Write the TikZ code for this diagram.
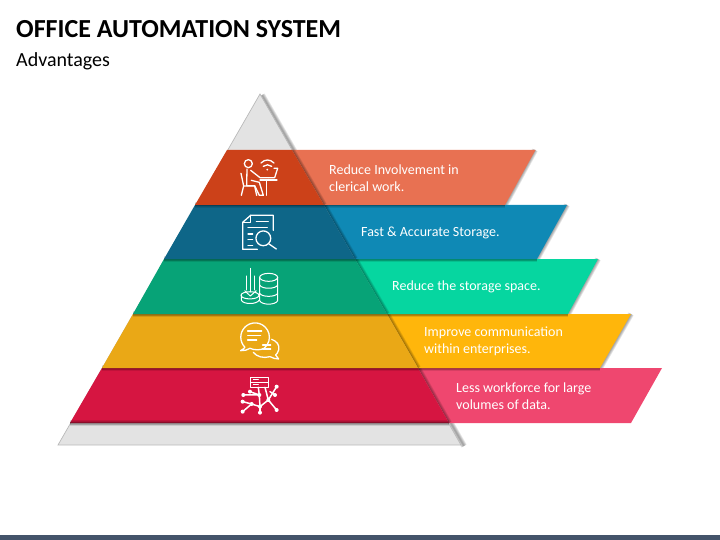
\documentclass[tikz,border=0pt]{standalone}
\usepackage{fontspec}
\setmainfont{Carlito}
\definecolor{cgrey}{RGB}{227,227,227}
\definecolor{cbar}{RGB}{68,84,106}
\definecolor{bandA}{RGB}{204,65,25}
\definecolor{ribbonA}{RGB}{232,113,82}
\definecolor{bandB}{RGB}{14,102,136}
\definecolor{ribbonB}{RGB}{15,137,181}
\definecolor{bandC}{RGB}{7,163,119}
\definecolor{ribbonC}{RGB}{6,214,160}
\definecolor{bandD}{RGB}{234,168,22}
\definecolor{ribbonD}{RGB}{255,182,11}
\definecolor{bandE}{RGB}{214,21,65}
\definecolor{ribbonE}{RGB}{239,71,111}
\tikzset{
  softedge/.style={draw=black, opacity=0.10},
  ribbontext/.style={   % white text on a ribbon
    anchor=west, align=left, inner sep=0pt, text=white,
    font=\fontsize{14}{16.8}\selectfont
  },
  iconline/.style={     % white outline icon, drawn in zoomed pixels
    draw=white, line width=1.3pt, line cap=round, line join=round,
    x=0.3333pt, y=-0.3333pt
  },
}
% soft shadow along a line: colour, from, to
\newcommand{\softline}[3]{%
  \draw[softedge, draw=#1, line width=1.5pt] #2 -- #3;
  \draw[softedge, draw=#1, line width=3pt] #2 -- #3;
  \draw[softedge, draw=#1, line width=4.5pt] #2 -- #3;
  \draw[softedge, draw=#1, line width=6pt] #2 -- #3;
}
% one level: ytop, ybottom, xleft top, xleft bottom, xedge top, xedge bottom, xribbon top, xribbon bottom, letter
\newcommand{\pyrlevel}[9]{%
  \fill[ribbon#9] (#5,#1) -- (#7,#1) -- (#8,#2) -- (#6,#2) -- cycle;
  \begin{scope}
    \clip (#5,#1) -- (#7,#1) -- (#8,#2) -- (#6,#2) -- cycle;
    \softline{black}{(#5,#1)}{(#6,#2)}
  \end{scope}
  \fill[band#9] (#3,#1) -- (#5,#1) -- (#6,#2) -- (#4,#2) -- cycle;
}

\begin{document}
\begin{tikzpicture}[x=1pt, y=-1pt]
\useasboundingbox (0,0) rectangle (720,540);

%% ─── TITLE ───────────────────────────────────────────────────────────────────
\node[anchor=west, inner sep=0pt, font=\fontsize{26}{30}\selectfont\bfseries]
  (title) at (16,29) {OFFICE AUTOMATION SYSTEM};
\node[anchor=west, inner sep=0pt, font=\fontsize{20}{24}\selectfont]
  (subtitle) at (16,61) {Advantages};

%% ─── GREY PYRAMID ────────────────────────────────────────────────────────────
\softline{black}{(262,95)}{(464,446)}
\softline{black}{(535,150)}{(505,205)}
\softline{black}{(567,205)}{(537,259)}
\softline{black}{(598,259)}{(568,314)}
\softline{black}{(631,314)}{(600,368)}
\draw[fill=cgrey, draw=gray!55, line width=0.7pt]
  (260,94) -- (461,445) -- (58,445) -- cycle;

%% ─── LEVELS, bottom one first ────────────────────────────────────────────────
\pyrlevel{368}{423}{102}{70}{418}{449}{662}{631}{E}
\softline{black}{(102,368)}{(600,368)}
\pyrlevel{314}{368}{133}{102}{387}{418}{631}{600}{D}
\softline{black}{(133,314)}{(568,314)}
\pyrlevel{259}{314}{164}{133}{355}{387}{598}{568}{C}
\softline{black}{(164,259)}{(537,259)}
\pyrlevel{205}{259}{195}{164}{324}{355}{567}{537}{B}
\softline{black}{(195,205)}{(505,205)}
\pyrlevel{150}{205}{227}{195}{292}{324}{535.5}{505}{A}
\softline{black}{(70,423)}{(449,423)}

%% ─── RIBBON TEXTS ────────────────────────────────────────────────────────────
\node[ribbontext] (textA) at (329,178.5) {Reduce Involvement in\\clerical work.};
\node[ribbontext] (textB) at (361,232.5) {Fast \& Accurate Storage.};
\node[ribbontext] (textC) at (392,287) {Reduce the storage space.};
\node[ribbontext] (textD) at (424,341.5) {Improve communication\\within enterprises.};
\node[ribbontext] (textE) at (456,396) {Less workforce for large\\volumes of data.};

%% ─── ICON: person at desk ────────────────────────────────────────────────────
\begin{scope}[shift={(180,85)}, iconline]
  \draw (205,236) circle[radius=4pt];
  \draw (183,265) -- (191,303) -- (184,331);
  \draw (191,303) -- (224,303) -- (230,331);
  \draw (201,252) -- (200,302) -- (224,302) -- (238,331) -- (250,331) -- (238,292) -- (214,286);
  \draw (212,256) -- (240,278) -- (266,278);
  \draw (240,285) -- (291,285);
  \draw (259,285) -- (259,331);
  \draw (266,278) -- (284,278) -- (293,250) -- (282,250);
  \draw (243,234) .. controls (255,222) and (270,222) .. (282,234);
  \draw (250,244) .. controls (257,238) and (268,238) .. (275,244);
  \fill[white] (262,254) circle[radius=1pt];
\end{scope}

%% ─── ICON: document and lens ─────────────────────────────────────────────────
\begin{scope}[shift={(180,85)}, iconline]
  \draw (232,493) -- (188,493) -- (188,412) -- (212,391) -- (280,391) -- (280,436);
  \draw (212,391) -- (212,412) -- (188,412);
  \draw (229,409) -- (265,409);
  \draw (204,428) -- (262,428);
  \draw (204,447) -- (218,447);
  \draw (204,464) -- (218,464);
  \draw (204,481) -- (218,481);
  \draw (250,460) circle[radius=7.4pt];
  \draw (267,477) -- (289,492);
\end{scope}

%% ─── ICON: arrow into stacks ─────────────────────────────────────────────────
\begin{scope}[shift={(50,260)}, iconline, line width=1pt]
  \draw (656,52) ellipse[x radius=9pt, y radius=4pt];
  \draw (629,52) -- (629,122) .. controls (635,136) and (677,136) .. (683,122) -- (683,52);
  \draw (629,75) .. controls (635,88) and (677,88) .. (683,75);
  \draw (629,100) .. controls (635,112) and (677,112) .. (683,100);
  \draw (600,106) ellipse[x radius=9pt, y radius=3.6pt];
  \draw (574,106) -- (574,120) .. controls (578,134) and (622,134) .. (628,120);
  \draw (601,25) -- (601,96);
  \draw (589,48) -- (589,90);
  \draw (613,48) -- (613,90);
  \draw (584,92) -- (601,108) -- (619,92);
\end{scope}

%% ─── ICON: speech bubbles ────────────────────────────────────────────────────
\begin{scope}[shift={(50,260)}, iconline]
  \draw (585,262) arc[start angle=225, end angle=-50, radius=14.3pt]
    .. controls (630,272) and (612,270) .. (600,265)
    .. controls (592,270) and (582,273) .. (572,272)
    .. controls (578,268) and (583,265) .. (585,262);
  \draw (665,238) .. controls (680,243) and (690,255) .. (686,270)
    .. controls (684,278) and (680,282) .. (677,285) -- (686,297)
    .. controls (676,297) and (668,294) .. (660,290)
    .. controls (640,296) and (620,290) .. (610,277);
  \draw (593,213) -- (635,213);
  \draw (593,226) -- (632,226);
  \draw (593,240) -- (620,240);
  \draw (638,255) -- (662,255);
  \draw (638,267) -- (662,267);
\end{scope}

%% ─── ICON: records and network ───────────────────────────────────────────────
\begin{scope}[shift={(50,260)}, iconline, line width=1.5pt]
  \draw[line width=1pt] (603,352) rectangle (655,382);
  \draw[line width=1pt] (603,367) -- (655,367);
  \draw[line width=1pt] (610,359) -- (625,359);
  \draw[line width=1pt] (610,374) -- (625,374);
  \draw (625,382) -- (628,405) -- (580,405);
  \draw (628,405) -- (600,395);
  \draw (645,382) -- (655,420) -- (680,380);
  \draw (655,420) -- (680,450);
  \draw (655,420) -- (630,440) -- (628,405);
  \draw (630,440) -- (630,458);
  \draw (630,440) -- (605,432) -- (578,455);
  \draw (605,432) -- (578,425);
  \draw (660,395) -- (675,405);
  \foreach \px/\py in {580/405,600/395,680/380,675/405,655/420,680/450,630/440,630/458,578/455,578/425,628/405,605/432}
    \fill[white] (\px,\py) circle[radius=2pt];
\end{scope}

%% ─── BOTTOM BAR ──────────────────────────────────────────────────────────────
\fill[cbar] (0,535) rectangle (720,540);

\end{tikzpicture}
\end{document}
